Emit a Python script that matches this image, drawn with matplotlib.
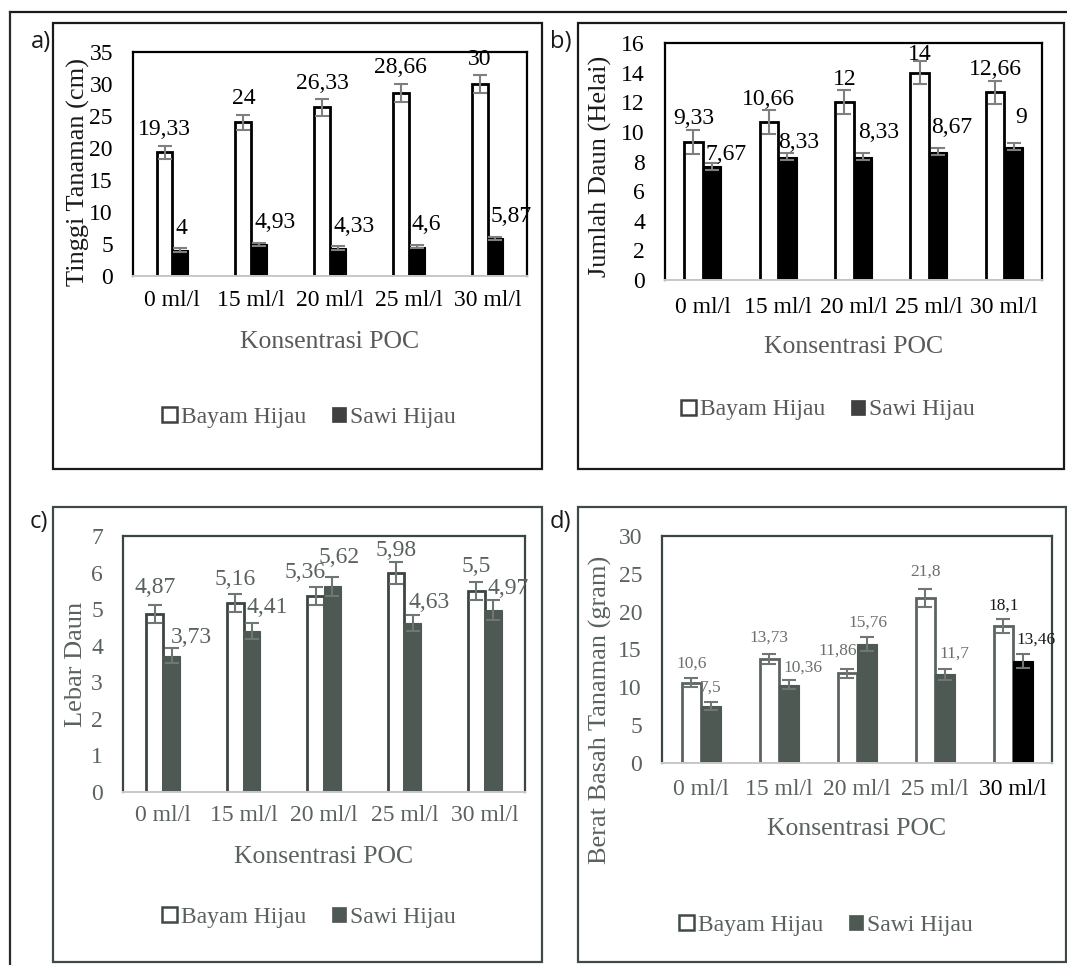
import matplotlib
matplotlib.use("Agg")
import matplotlib.pyplot as plt
from matplotlib.patches import Rectangle, Patch
import numpy as np

# ---------------- data ----------------
categories = ["0 ml/l", "15 ml/l", "20 ml/l", "25 ml/l", "30 ml/l"]
series_names = ["Bayam Hijau", "Sawi Hijau"]

# a) Tinggi Tanaman (cm)
a_bayam = [19.33, 24, 26.33, 28.66, 30]
a_bayam_err = [1.0, 1.2, 1.3, 1.4, 1.4]
a_sawi = [4, 4.93, 4.33, 4.6, 5.87]
a_sawi_err = [0.3, 0.3, 0.3, 0.3, 0.3]
a_bayam_lbl = ["19,33", "24", "26,33", "28,66", "30"]
a_sawi_lbl = ["4", "4,93", "4,33", "4,6", "5,87"]

# b) Jumlah Daun (Helai)
b_bayam = [9.33, 10.66, 12, 14, 12.66]
b_bayam_err = [0.8, 0.8, 0.8, 0.8, 0.8]
b_sawi = [7.67, 8.33, 8.33, 8.67, 9]
b_sawi_err = [0.25, 0.25, 0.25, 0.25, 0.25]
b_bayam_lbl = ["9,33", "10,66", "12", "14", "12,66"]
b_sawi_lbl = ["7,67", "8,33", "8,33", "8,67", "9"]

# c) Lebar Daun
c_bayam = [4.87, 5.16, 5.36, 5.98, 5.5]
c_bayam_err = [0.25, 0.25, 0.25, 0.3, 0.25]
c_sawi = [3.73, 4.41, 5.62, 4.63, 4.97]
c_sawi_err = [0.2, 0.22, 0.27, 0.22, 0.27]
c_bayam_lbl = ["4,87", "5,16", "5,36", "5,98", "5,5"]
c_sawi_lbl = ["3,73", "4,41", "5,62", "4,63", "4,97"]

# d) Berat Basah Tanaman (gram)
d_bayam = [10.6, 13.73, 11.86, 21.8, 18.1]
d_bayam_err = [0.6, 0.7, 0.6, 1.2, 0.9]
d_sawi = [7.5, 10.36, 15.76, 11.7, 13.46]
d_sawi_err = [0.5, 0.6, 0.9, 0.7, 0.9]
d_bayam_lbl = ["10,6", "13,73", "11,86", "21,8", "18,1"]
d_sawi_lbl = ["7,5", "10,36", "15,76", "11,7", "13,46"]

# ---------------- layout helpers ----------------
W, H = 1067, 965
SERIF = ["Liberation Serif", "DejaVu Serif"]
SANS = ["Open Sans", "DejaVu Sans"]
plt.rcParams["font.family"] = SERIF

fig = plt.figure(figsize=(W / 100, H / 100), dpi=100)
fig.patch.set_facecolor("white")


def fx(x):
    return x / W


def fy(y):
    return 1 - y / H


def box(x0, y0, x1, y1, color, lw=1.6):
    fig.add_artist(Rectangle((fx(x0), fy(y1)), (x1 - x0) / W, (y1 - y0) / H,
                             transform=fig.transFigure, fill=False,
                             edgecolor=color, linewidth=lw, zorder=0))


# outer frame (top and left sides visible)
fig.add_artist(plt.Line2D([fx(10), fx(1067)], [fy(12), fy(12)], transform=fig.transFigure,
                          color="#1a1a1a", lw=1.6))
fig.add_artist(plt.Line2D([fx(10), fx(10)], [fy(12), fy(965)], transform=fig.transFigure,
                          color="#2a2a2a", lw=1.6))

PX = 0.72  # points per pixel


def panel(rect, bayam, bayam_err, sawi, sawi_err, bayam_lbl, sawi_lbl, ymax, ystep,
          ylabel, letter, letter_xy, ylab_xy, xlab_xy, leg_xy, box_rect,
          bar_w, sawi_colors, bayam_edge, text_c, tick_c, xtick_colors, frame_c,
          err_c, lbl_size, lbl_colors, b_dy, b_dx, s_dy, s_dx, xpad, box_c):
    l, t, r, b = rect
    box(*box_rect, color=box_c)
    ax = fig.add_axes([fx(l), fy(b), (r - l) / W, (b - t) / H])
    ax.set_facecolor("none")
    x = np.arange(len(categories))
    xb = x - bar_w / 2
    xs = x + bar_w / 2
    ax.bar(xb, bayam, width=bar_w, color="white", edgecolor=bayam_edge, linewidth=2.0, zorder=2)
    ax.bar(xs, sawi, width=bar_w, color=sawi_colors, edgecolor=sawi_colors, linewidth=0.8, zorder=2)
    ax.errorbar(xb, bayam, yerr=bayam_err, fmt="none", ecolor=err_c, elinewidth=1.5,
                capsize=5, capthick=1.5, zorder=3)
    ax.errorbar(xs, sawi, yerr=sawi_err, fmt="none", ecolor=err_c, elinewidth=1.5,
                capsize=5, capthick=1.5, zorder=3)
    ax.set_xlim(-0.5, len(categories) - 0.5)
    ax.set_ylim(0, ymax)
    ax.set_yticks(np.arange(0, ymax + 0.01, ystep))
    ax.set_yticklabels([f"{v:g}" for v in np.arange(0, ymax + 0.01, ystep)])
    ax.set_xticks(x)
    ax.set_xticklabels(categories)
    for lab, c in zip(ax.get_xticklabels(), xtick_colors):
        lab.set_color(c)
    ax.tick_params(axis="y", length=0, pad=14.4, labelsize=17, labelcolor=tick_c)
    ax.tick_params(axis="x", length=0, pad=xpad, labelsize=17)
    for s in ("top", "left", "right"):
        ax.spines[s].set_color(frame_c)
        ax.spines[s].set_linewidth(1.6)
    ax.spines["bottom"].set_color("#c8c8c8")
    ax.spines["bottom"].set_linewidth(1.4)
    # data labels
    for i in range(len(categories)):
        ax.annotate(bayam_lbl[i], xy=(xb[i], bayam[i] + bayam_err[i]),
                    xytext=(b_dx[i] * PX, b_dy[i] * PX), textcoords="offset points",
                    ha="center", va="center", fontsize=lbl_size, color=lbl_colors[i],
                    zorder=5, annotation_clip=False)
        ax.annotate(sawi_lbl[i], xy=(xs[i] - bar_w / 2, sawi[i]),
                    xytext=(s_dx[i] * PX, s_dy[i] * PX), textcoords="offset points",
                    ha="left", va="center", fontsize=lbl_size, color=lbl_colors[i],
                    zorder=5, annotation_clip=False)
    # texts
    fig.text(fx(letter_xy[0]), fy(letter_xy[1]), letter, family=SANS, fontsize=17,
             ha="left", va="center", color="#1a1a1a")
    fig.text(fx(ylab_xy[0]), fy(ylab_xy[1]), ylabel, rotation=90, fontsize=19,
             ha="center", va="center", color=text_c[0])
    fig.text(fx(xlab_xy[0]), fy(xlab_xy[1]), "Konsentrasi POC", fontsize=18.5,
             ha="center", va="center", color=text_c[1])
    handles = [Patch(facecolor="white", edgecolor=text_c[2], linewidth=1.8),
               Patch(facecolor=text_c[3], edgecolor=text_c[3], linewidth=0.5)]
    fig.legend(handles, series_names, loc="center",
               bbox_to_anchor=(fx(leg_xy[0]), fy(leg_xy[1])), ncol=2, frameon=False,
               fontsize=17, handlelength=0.62, handleheight=0.62, handletextpad=0.15,
               columnspacing=1.1, labelcolor=text_c[1], borderpad=0)
    return ax


BLACK = "#000000"
GRAY = "#595959"
TINT = "#4f5953"
TINT_TXT = "#59625c"
DTXT = "#6a706c"

# a)
panel((133, 52, 527, 276), a_bayam, a_bayam_err, a_sawi, a_sawi_err, a_bayam_lbl, a_sawi_lbl,
      35, 5, "Tinggi Tanaman (cm)", "a)", (31, 42), (78, 172), (330, 342), (309, 417),
      (53, 23, 542, 469), 0.2, [BLACK] * 5, BLACK, ["#1a1a1a", GRAY, "#404040", "#404040"],
      BLACK, [BLACK] * 5, BLACK, "#7f7f7f", 17, [BLACK] * 5,
      [16, 16, 16, 16, 16], [0, 0, 0, 0, 0], [22, 22, 22, 22, 22], [3, 3, 3, 3, 3], 10, "#1a1a1a")

# b)
panel((665, 43, 1042, 280), b_bayam, b_bayam_err, b_sawi, b_sawi_err, b_bayam_lbl, b_sawi_lbl,
      16, 2, "Jumlah Daun (Helai)", "b)", (550, 42), (600, 166), (854, 347), (828, 410),
      (578, 23, 1064, 469), 0.245, [BLACK] * 5, BLACK, ["#1a1a1a", GRAY, "#404040", "#404040"],
      BLACK, [BLACK] * 5, BLACK, "#7f7f7f", 17, [BLACK] * 5,
      [11, 11, 11, 6, 11], [0, 0, 0, 0, 0], [12, 14, 24, 24, 29], [3, 0, 5, 2, 11], 12, "#1a1a1a")

# c)
panel((123, 536, 525, 792), c_bayam, c_bayam_err, c_sawi, c_sawi_err, c_bayam_lbl, c_sawi_lbl,
      7, 1, "Lebar Daun", "c)", (30, 522), (76, 664), (324, 857), (309, 917),
      (53, 507, 542, 962), 0.21, [TINT] * 5, "#3c4640", [TINT_TXT, TINT_TXT, "#404a44", TINT],
      TINT_TXT, [TINT_TXT] * 5, "#3c4640", "#6f7772", 17, [TINT_TXT] * 5,
      [17, 15, 14, 12, 15], [0, 0, -10, 0, 0], [18, 23, 29, 20, 22], [8, 3, -5, 4, 3], 9.4, "#404a44")

# d)
panel((662, 536, 1052, 763), d_bayam, d_bayam_err, d_sawi, d_sawi_err, d_bayam_lbl, d_sawi_lbl,
      30, 5, "Berat Basah Tanaman (gram)", "d)", (550, 522), (600, 710), (857, 829), (826, 925),
      (578, 507, 1066, 962), 0.25, [TINT] * 4 + [BLACK], "#5d6460",
      [TINT_TXT, TINT_TXT, "#404a44", TINT],
      TINT_TXT, [TINT_TXT] * 4 + [BLACK], "#3c4640", "#6f7772", 12.5,
      [DTXT] * 4 + ["#1a1a1a"],
      [15, 16, 18, 17, 14], [0, 0, -10, 0, 0], [19, 17, 21, 21, 22], [-1, 4, -9, 4, 3], 11.5, "#404a44")

fig.savefig("out.png", dpi=100, facecolor="white")
